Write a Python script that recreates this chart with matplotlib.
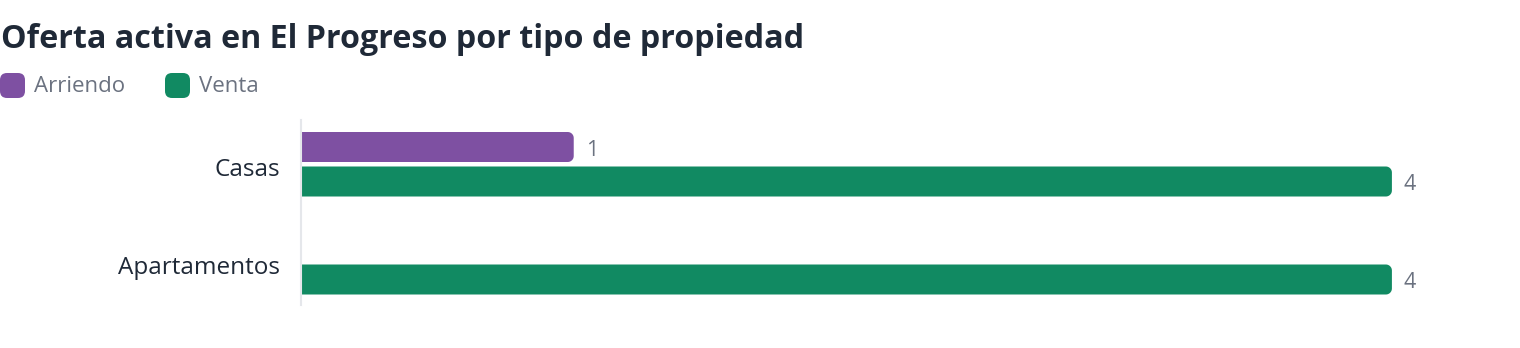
import numpy as np
import matplotlib.pyplot as plt
from matplotlib.patches import FancyBboxPatch, Polygon

categories = ["Casas", "Apartamentos"]
series = ["Arriendo", "Venta"]
arriendo = [1, 0]
venta = [4, 4]
colors = ["#7E50A2", "#118A62"]

plt.rcParams['font.family'] = ['Open Sans', 'DejaVu Sans']

W, H = 1520, 348
fig = plt.figure(figsize=(W / 100, H / 100), dpi=100)

# axes placed in pixel terms
ax_left, ax_right = 301, 1501
ax_top, ax_bot = 120, 305
ax = fig.add_axes([ax_left / W, 1 - ax_bot / H, (ax_right - ax_left) / W, (ax_bot - ax_top) / H])

xmax = 4.4
ax.set_xlim(0, xmax)
px_per_cat = 98.0
y0 = (ax_top - 164.5) / px_per_cat
y1 = (ax_bot - 164.5) / px_per_cat
ax.set_ylim(y1, y0)

xu = xmax / (ax_right - ax_left)   # x units per pixel
yu = 1 / px_per_cat               # y units per pixel
bar_h = 30 * yu
offs = [-17.5 * yu, 17 * yu]
rx, ry = 6 * xu, 6 * yu


def right_rounded(x, yb, h):
    # bar with square left end and rounded right corners
    t = np.linspace(0, np.pi / 2, 10)
    bot = np.column_stack([x - rx + rx * np.sin(t), yb + ry - ry * np.cos(t)])
    top = np.column_stack([x - rx + rx * np.cos(t), yb + h - ry + ry * np.sin(t)])
    pts = np.vstack([[[0, yb]], bot, top, [[0, yb + h]]])
    return Polygon(pts, closed=True)


for s, vals in enumerate([arriendo, venta]):
    for i, v in enumerate(vals):
        if v <= 0:
            continue
        yc = i + offs[s]
        p = right_rounded(v, yc - bar_h / 2, bar_h)
        p.set_facecolor(colors[s])
        p.set_edgecolor("none")
        ax.add_patch(p)
        ax.text(v + 12 * xu, yc + 3 * yu, str(v), va="center", ha="left",
                fontsize=15.5, color="#6B7280")

ax.set_yticks([c + 2 * yu for c in range(len(categories))])
ax.set_yticklabels(categories, fontsize=17.5, color="#1F2937")
ax.tick_params(axis="y", length=0, pad=15)
ax.set_xticks([])
for sp in ["top", "right", "bottom"]:
    ax.spines[sp].set_visible(False)
ax.spines["left"].set_color("#E5E7EB")
ax.spines["left"].set_linewidth(1.5)

fig.text(1 / W, 1 - 39 / H, "Oferta activa en El Progreso por tipo de propiedad",
         fontsize=23.2, fontweight="bold", color="#1F2937", va="center", ha="left")

# legend
lx = [0, 165]
for k, name in enumerate(series):
    box = FancyBboxPatch((lx[k] / W, 1 - 98 / H), 25 / W, 25 / H,
                         boxstyle=f"round,pad=0,rounding_size={7 / W}",
                         mutation_aspect=W / H, fc=colors[k], ec="none",
                         transform=fig.transFigure)
    fig.patches.append(box)
    fig.text((lx[k] + 34) / W, 1 - 86 / H, name, fontsize=16, color="#6B7280",
             va="center", ha="left")

fig.savefig("out.png", dpi=100)
